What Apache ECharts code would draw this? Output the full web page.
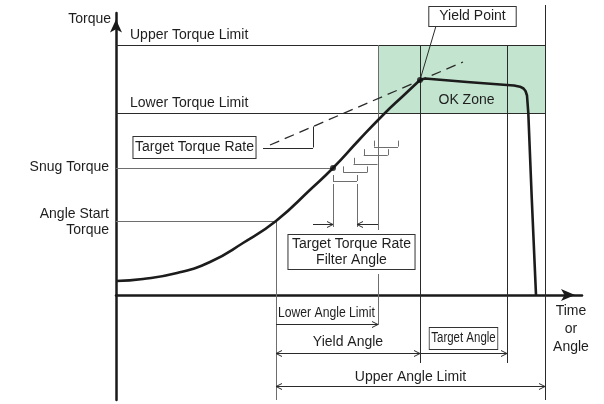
<!DOCTYPE html>
<html><head><meta charset="utf-8">
<script src="https://cdn.jsdelivr.net/npm/echarts@6/dist/echarts.min.js"></script>
<style>html,body{margin:0;padding:0;background:#fff}#c{width:604px;height:404px}</style>
</head><body><div id="c"></div>
<script>
// Diagram units: x = rotation angle, y = torque (arbitrary units)
const torqueNames  = ['Upper Torque Limit', 'Lower Torque Limit', 'Snug Torque', 'Angle Start\nTorque'];
const torqueValues = [250, 182, 127, 74];
const angleNames   = ['Angle Start', 'Lower Angle Limit', 'Yield Point', 'Target Angle', 'Upper Angle Limit'];
const angleValues  = [160, 262, 304, 391, 429];

// tightening curve up to the yield point
const riseAngle  = [0, 27, 61, 94, 127, 160, 196, 217, 243, 269, 287, 304];
const riseTorque = [14, 16, 22, 33, 52, 74, 107, 127, 155, 182, 199, 215];
// after the yield point (plateau, then release)
const fallAngle  = [304, 309, 351, 391, 398, 404, 407.5, 409.5, 411, 412.3, 415.7, 420];
const fallTorque = [215, 216.5, 213, 210, 209.5, 208.3, 206.5, 204, 199.5, 182, 98, 0];

// target torque rate (dashed tangent)
const rateAngle  = [154, 347];
const rateTorque = [150, 233];
const rateLegAngle = [147, 197];
const rateLegTorque = 147.5;

// torque-rate filter windows
const filterStartAngle  = [217, 227.25, 237.5, 247.75, 258];
const filterStartTorque = [114, 122.6, 131.2, 139.8, 148.4];
const filterWindow = 24;
const filterTick = 6;

// axis extents
const angleAxis  = [0, 466];
const torqueAxis = [-105, 282];
const yieldIdx = riseAngle.length - 1;

const FONT = '14px "Liberation Sans", Arial, Helvetica, sans-serif';
const DARK = '#2a2a2a', GRAY = '#6e6e6e', TXT = '#1e1e1e';

// ---------- build geometry from named values ----------
const [tUpper, tLower, tSnug, tStart] = torqueValues;
const [aStart, aLower, aYield, aTarget, aUpper] = angleValues;
const snugAngle = filterStartAngle[0];
const yieldTorque = riseTorque[yieldIdx];

// segments: [x1, y1, x2, y2, gray?]
const segments = [
  [0, tUpper, aUpper, tUpper, 0],
  [0, tLower, aUpper, tLower, 0],
  [0, tSnug, snugAngle, tSnug, 1],
  [0, tStart, aStart, tStart, 1],
  [aStart, tStart, aStart, torqueAxis[0], 1],
  [aLower, tUpper, aLower, 65, 1],
  [aLower, 21, aLower, -30, 1],
  [aYield, tUpper, aYield, -68, 0],
  [aTarget, tUpper, aTarget, -68, 0],
  [aUpper, 290, aUpper, torqueAxis[0], 0],
  [aYield, yieldTorque, 320, 269, 0],
  // rate triangle legs
  [rateLegAngle[0], rateLegTorque, rateLegAngle[1], rateLegTorque, 0],
  [rateLegAngle[1], rateLegTorque, rateLegAngle[1],
    rateTorque[0] + (rateLegAngle[1] - rateAngle[0]) * (rateTorque[1] - rateTorque[0]) / (rateAngle[1] - rateAngle[0]), 0],
  // filter window extension lines
  [snugAngle, 111, snugAngle, 68, 1],
  [snugAngle + filterWindow, 111, snugAngle + filterWindow, 68, 1]
];
filterStartAngle.forEach((a, i) => {
  const t = filterStartTorque[i];
  segments.push([a, t, a + filterWindow, t, 1]);
  segments.push([a, t, a, t + filterTick, 1]);
  segments.push([a + filterWindow, t, a + filterWindow, t + filterTick, 1]);
});

// dimension lines: [x1, x2, y, arrowAtStart, arrowAtEnd]
const dims = [
  [197, snugAngle, 71, 0, 1],
  [aLower, snugAngle + filterWindow, 71, 0, 1],
  [aStart, aLower, -28.5, 0, 1],
  [aStart, aYield, -58, 1, 1],
  [aYield, aTarget, -58, 0, 1],
  [aStart, aUpper, -91, 1, 1]
];

const labels = [
  {text: 'Torque', at: [-5, 276], align: 'right'},
  {text: torqueNames[0], at: [14, tUpper + 10], align: 'left'},
  {text: torqueNames[1], at: [14, tLower + 10], align: 'left'},
  {text: torqueNames[2], at: [-7, tSnug + 1], align: 'right'},
  {text: torqueNames[3], at: [-7, tStart - 1], align: 'right', lh: 16},
  {text: 'OK Zone', at: [(aLower + aUpper) / 2 + 5, 195], align: 'center'},
  {text: 'Time\nor\nAngle', at: [455, -34], align: 'center', lh: 18},
  {text: 'Target Torque Rate', at: [78.5, rateLegTorque], align: 'center', box: true, pad: [2, 1.5], lh: 17},
  {text: angleNames[2], at: [356.5, 278.5], align: 'center', box: true, pad: [2, 10], lh: 15},
  {text: 'Target Torque Rate\nFilter Angle', at: [235.5, 43], align: 'center', box: true, pad: [1, 3.5], lh: 16},
  {text: angleNames[1], at: [aStart + 2, -18], align: 'left', sx: 0.87},
  {text: 'Yield Angle', at: [(aStart + aYield) / 2, -47], align: 'center'},
  {text: angleNames[3], at: [(aYield + aTarget) / 2, -43.5], align: 'center', box: true, pad: [2, 2], lh: 17, sx: 0.82},
  {text: angleNames[4], at: [(aStart + aUpper) / 2, -82], align: 'center'}
];

const crisp = v => Math.round(v) + 0.5;

const chart = echarts.init(document.getElementById('c'), null, {renderer: 'canvas'});
chart.setOption({
  animation: false,
  backgroundColor: '#fff',
  grid: {left: 116, right: 22, top: 13, bottom: 4},
  xAxis: {
    type: 'value', min: angleAxis[0], max: angleAxis[1],
    axisLine: {onZero: true, symbol: ['none', 'arrow'], symbolSize: [9, 14], symbolOffset: [0, -7],
      lineStyle: {color: '#1a1a1a', width: 2.5}},
    axisTick: {show: false}, axisLabel: {show: false}, splitLine: {show: false}
  },
  yAxis: {
    type: 'value', min: torqueAxis[0], max: torqueAxis[1],
    axisLine: {onZero: true, symbol: ['none', 'arrow'], symbolSize: [9, 13], symbolOffset: [0, -6.5],
      lineStyle: {color: '#1a1a1a', width: 2.5}},
    axisTick: {show: false}, axisLabel: {show: false}, splitLine: {show: false}
  },
  series: [
    {
      type: 'custom', name: 'OK Zone', z: 1, silent: true,
      data: [[aLower, tUpper, aUpper, tLower]],
      renderItem(params, api) {
        const p1 = api.coord([api.value(0), api.value(1)]);
        const p2 = api.coord([api.value(2), api.value(3)]);
        return {type: 'rect', shape: {x: p1[0], y: p1[1], width: p2[0] - p1[0], height: p2[1] - p1[1]},
          style: {fill: '#c3e5cf'}};
      }
    },
    {
      type: 'custom', name: 'lines', z: 3, silent: true,
      data: segments,
      renderItem(params, api) {
        const p1 = api.coord([api.value(0), api.value(1)]);
        const p2 = api.coord([api.value(2), api.value(3)]);
        const g = api.value(4);
        let x1 = p1[0], y1 = p1[1], x2 = p2[0], y2 = p2[1];
        if (Math.abs(x1 - x2) < 0.01) { x1 = x2 = crisp(x1); }
        if (Math.abs(y1 - y2) < 0.01) { y1 = y2 = crisp(y1); }
        return {type: 'line', shape: {x1, y1, x2, y2}, style: {stroke: g ? GRAY : DARK, lineWidth: 1}};
      }
    },
    {
      type: 'custom', name: 'dimensions', z: 3, silent: true,
      data: dims,
      renderItem(params, api) {
        const p1 = api.coord([api.value(0), api.value(2)]);
        const p2 = api.coord([api.value(1), api.value(2)]);
        const y = crisp(p1[1]);
        const dir = Math.sign(p2[0] - p1[0]);
        const ch = [{type: 'line', shape: {x1: p1[0], y1: y, x2: p2[0], y2: y}, style: {stroke: DARK, lineWidth: 1}}];
        const head = (x, d) => ({type: 'polyline', shape: {points: [[x - d * 6, y - 3], [x, y], [x - d * 6, y + 3]]},
          style: {stroke: DARK, fill: null, lineWidth: 1}});
        if (api.value(3)) ch.push(head(p1[0], -dir));
        if (api.value(4)) ch.push(head(p2[0], dir));
        return {type: 'group', children: ch};
      }
    },
    {
      type: 'line', name: 'Target Torque Rate', z: 3, clip: false, symbol: 'none', silent: true,
      data: rateAngle.map((a, i) => [a, rateTorque[i]]),
      lineStyle: {color: DARK, width: 1.3, type: [10, 6]}
    },
    {
      type: 'line', name: 'Torque (rise)', z: 5, clip: false, symbol: 'none', silent: true,
      smooth: 0.5,
      data: riseAngle.map((a, i) => [a, riseTorque[i]]),
      lineStyle: {color: '#1c1c1c', width: 2.6}
    },
    {
      type: 'line', name: 'Torque (yield)', z: 5, clip: false, symbol: 'none', silent: true,
      data: fallAngle.map((a, i) => [a, fallTorque[i]]),
      lineStyle: {color: '#1c1c1c', width: 2.6, join: 'round'}
    },
    {
      type: 'scatter', name: 'points', z: 6, clip: false, silent: true, symbolSize: 6,
      itemStyle: {color: '#111'},
      data: [[snugAngle, tSnug], [aYield, yieldTorque]]
    },
    {
      type: 'custom', name: 'labels', z: 8, silent: true,
      data: labels.map(l => l.at),
      renderItem(params, api) {
        const L = labels[params.dataIndex];
        const p = api.coord([api.value(0), api.value(1)]);
        const style = {text: L.text, x: 0, y: 0, align: L.align, verticalAlign: 'middle',
          font: FONT, fill: TXT, lineHeight: L.lh || 16};
        if (L.box) {
          style.borderColor = '#333'; style.borderWidth = 1; style.padding = L.pad;
          style.backgroundColor = '#fff';
        }
        return {type: 'text', x: p[0], y: p[1], scaleX: L.sx || 1, style};
      }
    }
  ]
});
</script></body></html>
